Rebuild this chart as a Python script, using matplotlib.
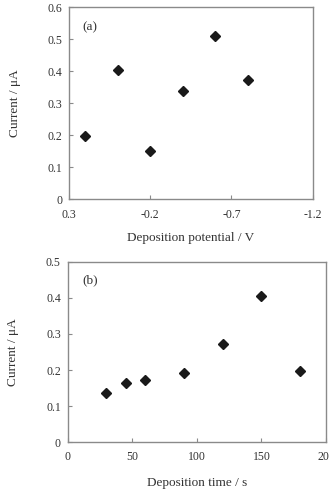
import matplotlib.pyplot as plt

plt.rcParams['font.family'] = ['Liberation Serif', 'DejaVu Serif']
plt.rcParams['mathtext.fontset'] = 'stix'

# ── data ──
potential = [0.2, 0.0, -0.2, -0.4, -0.6, -0.8]
current_a = [0.198, 0.404, 0.152, 0.339, 0.511, 0.373]

dep_time = [30, 45, 60, 90, 120, 150, 180]
current_b = [0.137, 0.165, 0.172, 0.192, 0.273, 0.405, 0.197]

pot_ticks = [0.3, -0.2, -0.7, -1.2]
pot_ticklabels = ['0.3', '-0.2', '-0.7', '-1.2']
ya_ticks = [0, 0.1, 0.2, 0.3, 0.4, 0.5, 0.6]
ya_ticklabels = ['0', '0.1', '0.2', '0.3', '0.4', '0.5', '0.6']
time_ticks = [0, 50, 100, 150, 200]
yb_ticks = [0, 0.1, 0.2, 0.3, 0.4, 0.5]
yb_ticklabels = ['0', '0.1', '0.2', '0.3', '0.4', '0.5']

TXT = '#333333'
SPINE = '#8a8a8a'
MK = '#1a1a1a'

fig = plt.figure(figsize=(3.29, 4.90), dpi=100)
ax1 = fig.add_axes([0.2097, 0.5933, 0.7407, 0.3918])
ax2 = fig.add_axes([0.2058, 0.0973, 0.785, 0.3686])


def style(ax):
    for s in ax.spines.values():
        s.set_color(SPINE)
        s.set_linewidth(1.0)
    ax.tick_params(direction='in', length=3, width=0.8, color=SPINE,
                   labelsize=8.5, labelcolor=TXT, pad=5)


# ── (a) ──
ax1.plot(potential, current_a, linestyle='none', marker='D', markersize=5.5,
         color=MK, clip_on=False)
ax1.set_xlim(0.3, -1.2)
ax1.set_ylim(0, 0.6)
ax1.set_xticks(pot_ticks)
ax1.set_xticklabels(pot_ticklabels)
ax1.set_yticks(ya_ticks)
ax1.set_yticklabels(ya_ticklabels)
style(ax1)
ax1.tick_params(axis='x', pad=7)
ax1.set_xlabel('Deposition potential / V', fontsize=9.5, color=TXT, labelpad=8)
ax1.set_ylabel('Current / μA', fontsize=9.5, color=TXT, labelpad=19)
ax1.text(0.055, 0.897, '(a)', transform=ax1.transAxes, fontsize=9.5, color=TXT,
         ha='left', va='center')

# ── (b) ──
ax2.plot(dep_time, current_b, linestyle='none', marker='D', markersize=5.5,
         color=MK, clip_on=False)
ax2.set_xlim(0, 200)
ax2.set_ylim(0, 0.5)
ax2.set_xticks(time_ticks)
ax2.set_yticks(yb_ticks)
ax2.set_yticklabels(yb_ticklabels)
style(ax2)
ax2.tick_params(axis='x', pad=6)
ax2.set_xlabel('Deposition time / s', fontsize=9.5, color=TXT, labelpad=10)
ax2.set_ylabel('Current / μA', fontsize=9.5, color=TXT, labelpad=19)
ax2.text(0.058, 0.899, '(b)', transform=ax2.transAxes, fontsize=9.5, color=TXT,
         ha='left', va='center')

fig.savefig('out.png', dpi=100, facecolor='white')
